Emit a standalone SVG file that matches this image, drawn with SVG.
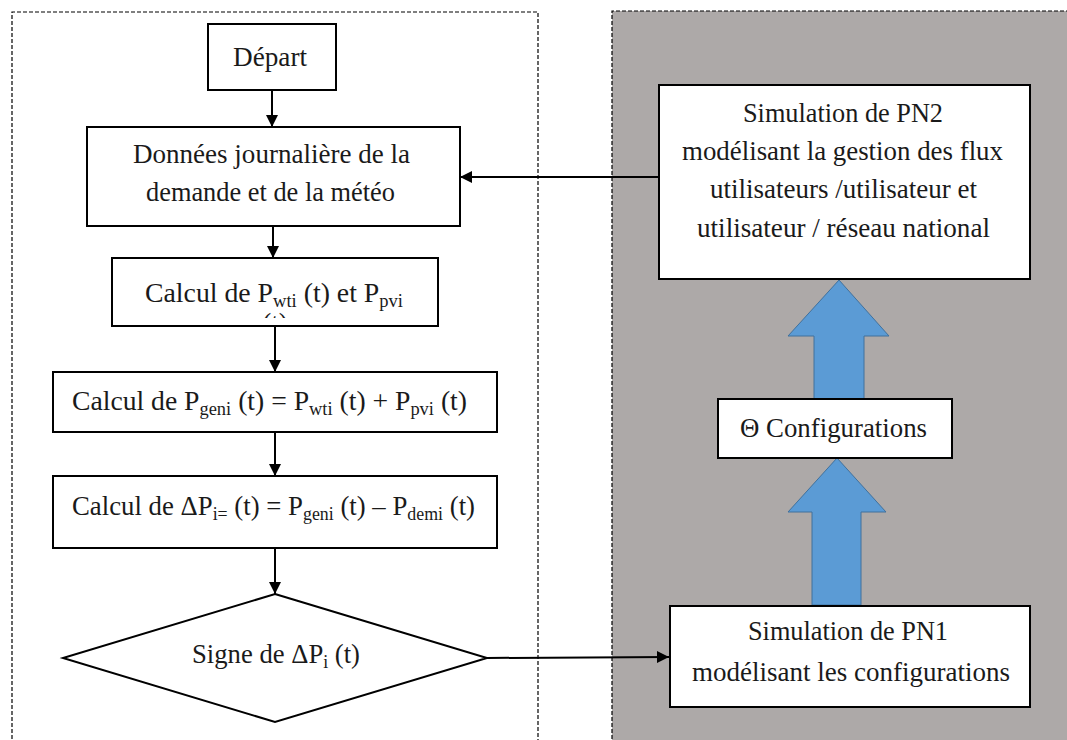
<svg xmlns="http://www.w3.org/2000/svg" width="1067" height="740" viewBox="0 0 1067 740">
<style>
.box{fill:#fff;stroke:#000;stroke-width:2}
.t{font-family:"Liberation Serif","Times New Roman",serif;font-size:27px;fill:#1a1a1a;text-anchor:middle}
.s{font-size:18px}
.c{stroke:#000;stroke-width:2;fill:none}
.dash{fill:none;stroke:#000;stroke-width:1.2;stroke-dasharray:4 2}
.big{fill:#5B9BD5;stroke:#41719C;stroke-width:1}
</style>
<defs>
<marker id="ah" viewBox="0 0 12 12" refX="12" refY="6" markerWidth="12" markerHeight="13" markerUnits="userSpaceOnUse" orient="auto">
<path d="M0,0 L12,6 L0,12 Z" fill="#000"/>
</marker>
<clipPath id="clipW"><rect x="113" y="259" width="324" height="59"/></clipPath>
</defs>
<rect width="1067" height="740" fill="#fff"/>
<g id="panels">
<rect x="612" y="11" width="460" height="740" fill="#ADA9A8"/>
<path class="dash" d="M12,745 V12 H538 V745"/>
<path class="dash" d="M612,745 V11 H1067"/>
</g>
<g id="connectors">
<line class="c" x1="272" y1="90" x2="272" y2="127" marker-end="url(#ah)"/>
<line class="c" x1="273" y1="226" x2="273" y2="258" marker-end="url(#ah)"/>
<line class="c" x1="275" y1="326" x2="275" y2="372" marker-end="url(#ah)"/>
<line class="c" x1="275" y1="432" x2="275" y2="476" marker-end="url(#ah)"/>
<line class="c" x1="275" y1="548" x2="275" y2="594" marker-end="url(#ah)"/>
<line class="c" x1="487" y1="658" x2="669" y2="657" marker-end="url(#ah)"/>
<line class="c" x1="659" y1="177" x2="460" y2="177" marker-end="url(#ah)"/>
<path class="big" d="M812,605 V512 H788 L837,458 L886,512 H861 V605 Z"/>
<path class="big" d="M814,399 V336 H788 L839,280 L889,336 H864 V399 Z"/>
</g>
<g id="depart">
<rect class="box" x="208" y="24" width="128" height="66"/>
<text class="t" x="270" y="66" textLength="74" lengthAdjust="spacingAndGlyphs">Départ</text>
</g>
<g id="donnees">
<rect class="box" x="87" y="127" width="373" height="99"/>
<text class="t" x="271.5" y="163" textLength="277" lengthAdjust="spacingAndGlyphs">Données journalière de la</text>
<text class="t" x="270.5" y="201" textLength="249" lengthAdjust="spacingAndGlyphs">demande et de la météo</text>
</g>
<g id="calcul-pwt">
<rect class="box" x="112" y="258" width="326" height="68"/>
<text class="t" x="274" y="302" textLength="258" lengthAdjust="spacingAndGlyphs">Calcul  de P<tspan class="s" dy="5">wti</tspan><tspan dy="-5"> (t)  et P</tspan><tspan class="s" dy="5">pvi</tspan></text>
<text class="t" x="275" y="332" clip-path="url(#clipW)">(t)</text>
</g>
<g id="calcul-pgen">
<rect class="box" x="53" y="372" width="444" height="60"/>
<text class="t" x="269.5" y="410" textLength="395" lengthAdjust="spacingAndGlyphs">Calcul  de P<tspan class="s" dy="5">geni</tspan><tspan dy="-5"> (t) = P</tspan><tspan class="s" dy="5">wti</tspan><tspan dy="-5"> (t) + P</tspan><tspan class="s" dy="5">pvi</tspan><tspan dy="-5"> (t)</tspan></text>
</g>
<g id="calcul-dp">
<rect class="box" x="53" y="476" width="444" height="72"/>
<text class="t" x="273.5" y="515" textLength="403" lengthAdjust="spacingAndGlyphs">Calcul  de ΔP<tspan class="s" dy="5">i=</tspan><tspan dy="-5"> (t) = P</tspan><tspan class="s" dy="5">geni</tspan><tspan dy="-5"> (t) – P</tspan><tspan class="s" dy="5">demi</tspan><tspan dy="-5"> (t)</tspan></text>
</g>
<g id="signe">
<polygon class="box" points="275,594 487,658 275,722 63,658"/>
<text class="t" x="276" y="663" textLength="168" lengthAdjust="spacingAndGlyphs">Signe de ΔP<tspan class="s" dy="5">i</tspan><tspan dy="-5"> (t)</tspan></text>
</g>
<g id="pn2">
<rect class="box" x="659" y="85" width="371" height="194"/>
<text class="t" x="843" y="122" textLength="200" lengthAdjust="spacingAndGlyphs">Simulation  de PN2</text>
<text class="t" x="842.5" y="160" textLength="321" lengthAdjust="spacingAndGlyphs">modélisant la gestion des flux</text>
<text class="t" x="843.5" y="198" textLength="267" lengthAdjust="spacingAndGlyphs">utilisateurs /utilisateur et</text>
<text class="t" x="843.5" y="237" textLength="293" lengthAdjust="spacingAndGlyphs">utilisateur / réseau national</text>
</g>
<g id="configs">
<rect class="box" x="718" y="399" width="234" height="59"/>
<text class="t" x="833.5" y="437" textLength="187" lengthAdjust="spacingAndGlyphs">Θ Configurations</text>
</g>
<g id="pn1">
<rect class="box" x="670" y="606" width="360" height="101"/>
<text class="t" x="848" y="640" textLength="200" lengthAdjust="spacingAndGlyphs">Simulation  de PN1</text>
<text class="t" x="851" y="681" textLength="318" lengthAdjust="spacingAndGlyphs">modélisant les configurations</text>
</g>
</svg>
